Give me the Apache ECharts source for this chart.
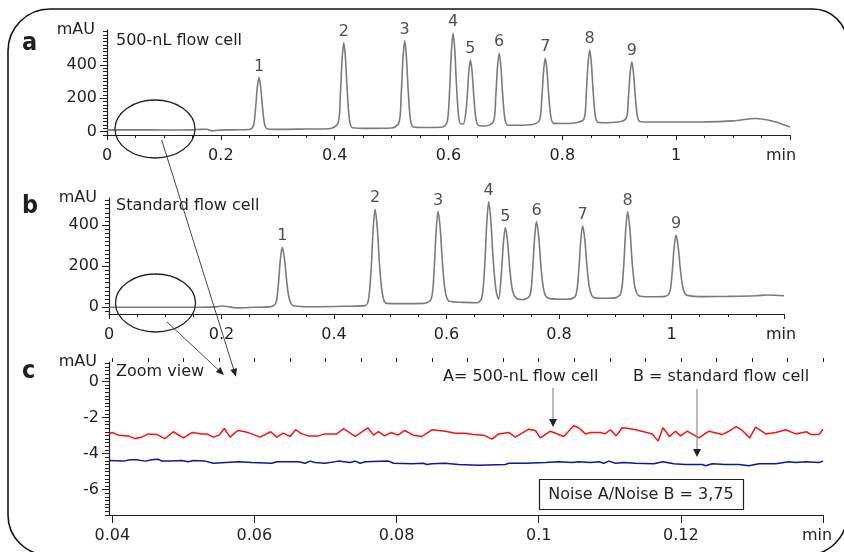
<!DOCTYPE html>
<html>
<head>
<meta charset="utf-8">
<script src="https://cdn.jsdelivr.net/npm/echarts@6/dist/echarts.min.js"></script>
<style>
html, body { margin: 0; background: #fff; }
#main { width: 844px; height: 552px; }
</style>
</head>
<body>
<div id="main"></div>
<script>
// a: 500-nL flow cell trace [min, mAU]
const aTrace = [
  [0,10],[0.05,10],[0.10,9],[0.15,10],[0.165,13],[0.175,14],[0.185,4],[0.195,8],[0.22,10],[0.25,12],
  [0.257,31],[0.261,137],[0.264,262],[0.267,325],[0.270,269],[0.273,153],[0.277,43],[0.282,15],
  [0.30,13],[0.35,15],[0.39,17],
  [0.406,49],[0.410,224],[0.413,430],[0.416,533],[0.419,440],[0.422,250],[0.426,70],[0.431,23],
  [0.46,19],[0.50,21],
  [0.513,53],[0.517,231],[0.520,440],[0.523,545],[0.526,451],[0.529,257],[0.533,74],[0.538,27],
  [0.56,24],[0.59,27],
  [0.598,62],[0.602,253],[0.605,478],[0.608,590],[0.611,489],[0.614,281],[0.618,84],[0.622,45],
  [0.626,45],[0.6315,150],[0.6355,349],[0.6385,429],[0.6415,357],[0.6445,210],[0.6485,70],[0.654,35],
  [0.665,33],
  [0.679,60],[0.683,208],[0.686,383],[0.689,470],[0.692,392],[0.695,230],[0.699,78],[0.704,38],
  [0.72,38],[0.75,44],
  [0.760,69],[0.764,203],[0.767,361],[0.770,440],[0.773,369],[0.776,223],[0.780,85],[0.785,49],
  [0.81,48],
  [0.838,76],[0.842,226],[0.845,401],[0.848,489],[0.851,410],[0.854,248],[0.858,94],[0.863,54],
  [0.88,53],
  [0.912,77],[0.916,201],[0.919,346],[0.922,419],[0.925,353],[0.928,219],[0.932,91],[0.937,59],
  [0.98,57],[1.05,58],[1.10,64],[1.14,78],[1.17,62],[1.2,27]
];
const aPeakTimes = [0.267, 0.416, 0.523, 0.608, 0.6385, 0.689, 0.770, 0.848, 0.922];
const aPeakHeights = [325, 533, 545, 590, 429, 470, 440, 489, 419];

// b: standard flow cell trace
const bTrace = [
  [0,0],[0.05,0],[0.10,0],[0.15,0],[0.19,2],[0.20,6],[0.21,4],[0.225,-3],[0.26,0],[0.285,2],
  [0.296,17],[0.301,109],[0.3045,228],[0.308,292],[0.312,234],[0.316,124],[0.321,37],[0.328,8],
  [0.36,3],[0.42,5],[0.455,8],
  [0.461,33],[0.466,183],[0.4695,374],[0.473,477],[0.477,384],[0.481,206],[0.486,66],[0.493,19],
  [0.52,18],[0.56,19],
  [0.573,42],[0.578,185],[0.5815,369],[0.585,467],[0.589,378],[0.593,208],[0.598,74],[0.605,29],
  [0.63,24],[0.655,22],
  [0.663,49],[0.668,205],[0.6715,406],[0.675,514],[0.679,416],[0.683,230],[0.688,83],
  [0.6926,40],[0.6976,166],[0.7011,311],[0.7046,388],[0.7086,318],[0.7126,184],[0.7176,78],[0.7246,43],
  [0.735,37],
  [0.748,56],[0.753,178],[0.7565,333],[0.760,417],[0.764,341],[0.768,197],[0.773,83],[0.780,45],
  [0.80,39],[0.82,40],
  [0.830,59],[0.835,173],[0.8385,319],[0.842,397],[0.846,326],[0.850,191],[0.855,84],[0.862,48],
  [0.88,44],[0.90,46],
  [0.910,69],[0.915,202],[0.9185,373],[0.922,465],[0.926,382],[0.930,223],[0.935,98],[0.942,56],
  [0.96,51],[0.985,52],
  [0.996,67],[1.001,163],[1.0045,286],[1.008,352],[1.012,292],[1.016,178],[1.021,88],[1.028,58],
  [1.06,52],[1.10,53],[1.15,56],[1.17,60],[1.2,56]
];
const bPeakTimes = [0.308, 0.473, 0.585, 0.675, 0.7046, 0.760, 0.842, 0.922, 1.008];
const bPeakHeights = [292, 477, 467, 514, 388, 417, 397, 465, 352];

// c: zoom view, A (red) and B (blue)
const cRed = [
  [0.0396,-2.9],[0.0400,-2.83],[0.04085,-2.98],[0.04225,-3.02],[0.04319,-3.17],[0.04413,-3.09],[0.04507,-2.91],
  [0.04624,-2.94],[0.04742,-3.17],[0.04859,-2.79],[0.05000,-3.13],[0.05127,-2.83],[0.05258,-2.91],[0.05329,-2.91],
  [0.05423,-3.09],[0.05502,-2.98],[0.05577,-2.61],[0.05657,-3.09],[0.05765,-2.72],[0.05869,-2.79],[0.05962,-2.91],
  [0.06080,-3.09],[0.06230,-2.79],[0.06315,-3.09],[0.06408,-2.87],[0.06502,-3.05],[0.06582,-2.68],[0.06667,-2.91],
  [0.06761,-3.02],[0.06901,-3.02],[0.06995,-2.91],[0.07160,-2.91],[0.07254,-2.61],[0.07347,-2.87],
  [0.07418,-3.05],[0.07596,-2.57],[0.07676,-2.98],[0.07746,-2.79],[0.07831,-3.02],[0.07925,-2.83],[0.08019,-2.98],
  [0.08113,-2.72],[0.08239,-2.98],[0.08357,-3.05],[0.08498,-2.68],[0.08685,-2.76],[0.08826,-2.87],[0.08967,-2.87],
  [0.09084,-2.94],[0.09225,-2.98],[0.09343,-3.20],[0.09437,-2.91],[0.09577,-2.83],[0.09671,-3.09],[0.09859,-2.65],
  [0.09953,-2.72],[0.10023,-3.13],[0.10164,-2.76],[0.10352,-3.05],[0.10493,-2.46],[0.10563,-2.57],[0.10657,-2.91],
  [0.10728,-2.83],
  [0.10869,-2.83],[0.10930,-2.91],[0.11010,-2.68],[0.11090,-3.02],[0.11174,-2.57],[0.11268,-2.61],[0.11362,-2.68],
  [0.11480,-2.79],[0.11597,-2.91],[0.11681,-3.31],[0.11747,-2.57],[0.11841,-3.05],[0.11926,-2.76],[0.11996,-3.02],
  [0.12090,-2.76],[0.12254,-3.13],[0.12395,-2.76],[0.12583,-2.94],[0.12677,-2.76],[0.12780,-2.50],[0.12865,-2.72],
  [0.12968,-3.13],[0.13052,-2.54],[0.13193,-2.91],[0.13334,-2.83],[0.13475,-2.68],[0.13616,-2.91],[0.13766,-2.79],
  [0.13827,-2.94],[0.13944,-2.94],[0.14,-2.65]
];
const cBlue = [
  [0.0396,-4.39],[0.04155,-4.42],[0.04249,-4.35],[0.04343,-4.35],[0.04460,-4.42],[0.04554,-4.35],[0.04648,-4.31],
  [0.04695,-4.42],[0.04836,-4.42],[0.04977,-4.39],[0.05070,-4.46],[0.05141,-4.39],[0.05305,-4.42],[0.05423,-4.54],
  [0.05775,-4.46],[0.05962,-4.50],[0.06244,-4.54],[0.06315,-4.46],[0.06620,-4.46],[0.06714,-4.54],[0.06784,-4.42],
  [0.06854,-4.50],[0.06995,-4.54],[0.07183,-4.42],[0.07347,-4.50],
  [0.07418,-4.42],[0.07488,-4.54],[0.07559,-4.46],[0.07887,-4.42],[0.07958,-4.54],[0.08216,-4.57],[0.08380,-4.54],
  [0.08427,-4.61],[0.08498,-4.57],[0.08685,-4.54],[0.08873,-4.61],[0.09155,-4.65],[0.09530,-4.61],[0.09577,-4.54],
  [0.09812,-4.54],[0.10094,-4.50],[0.10282,-4.46],[0.10469,-4.50],[0.10563,-4.46],[0.10728,-4.50],
  [0.10846,-4.46],[0.10916,-4.54],[0.10987,-4.42],[0.11080,-4.54],[0.11198,-4.50],[0.11362,-4.54],[0.11620,-4.57],
  [0.11747,-4.46],[0.11902,-4.57],[0.12066,-4.61],[0.12301,-4.61],[0.12348,-4.68],[0.12442,-4.57],[0.12630,-4.61],
  [0.12818,-4.61],[0.12958,-4.68],[0.13099,-4.57],[0.13334,-4.57],[0.13522,-4.46],[0.13616,-4.50],[0.13756,-4.46],
  [0.13944,-4.50],[0.14,-4.42]
];

// tick labels
const abYLabels = [0, 200, 400];
const cYLabels = [0, -2, -4, -6];
const cXLabels = [0.04, 0.06, 0.08, 0.1, 0.12, 0.14];

const FONT = 'DejaVu Sans';
const INK = '#231f20';

function steps(a, b, s) {
  const out = [];
  for (let v = a; v <= b + 1e-9; v += s) out.push(+v.toFixed(4));
  return out;
}

const txt = { color: INK, fontFamily: FONT, fontSize: 16 };
const line = { show: true, onZero: false, lineStyle: { color: INK, width: 1.2 } };

function xFmt(last) {
  return v => Math.abs(v - last) < 1e-6 ? '{m|min}' : String(+v.toFixed(3));
}

function xMain(grid, min, max, shift) {
  return {
    gridIndex: grid, type: 'value', min: min, max: max, interval: 0.2,
    axisLine: line,
    axisTick: { length: 5, lineStyle: { color: INK } },
    minorTick: { show: true, splitNumber: 4, length: 3, lineStyle: { color: INK } },
    splitLine: { show: false },
    axisLabel: Object.assign({}, txt, {
      margin: 13, formatter: xFmt(max),
      rich: { m: Object.assign({}, txt, { padding: [0, shift, 0, 0] }) }
    })
  };
}

function yMain(grid, min, max, labels, namePad) {
  return {
    gridIndex: grid, type: 'value', position: 'left', min: min, max: max,
    axisLine: line,
    axisTick: { customValues: labels, length: 7, lineStyle: { color: INK } },
    axisLabel: Object.assign({}, txt, { customValues: labels, margin: 10 }),
    splitLine: { show: false },
    name: 'mAU', nameLocation: 'end', nameGap: 0,
    nameTextStyle: Object.assign({}, txt, { align: 'right', verticalAlign: 'middle', padding: namePad })
  };
}

function yMinor(grid, min, max, ticks) {
  return {
    gridIndex: grid, type: 'value', position: 'left', min: min, max: max,
    axisLine: { show: false, onZero: false },
    axisTick: { customValues: ticks, length: 4, lineStyle: { color: INK } },
    axisLabel: { show: false },
    splitLine: { show: false }
  };
}

function peakLabels(times, heights, xi, yi) {
  return {
    type: 'scatter', xAxisIndex: xi, yAxisIndex: yi, symbolSize: 0, silent: true,
    data: times.map((t, i) => ({ value: [t, heights[i]], name: String(i + 1) })),
    label: Object.assign({}, txt, { show: true, position: 'top', distance: 3, formatter: '{b}' })
  };
}

const chart = echarts.init(document.getElementById('main'));

const option = {
  animation: false,
  backgroundColor: '#fff',
  grid: [
    { left: 107, right: 54, top: 30, height: 105 },
    { left: 109, right: 60, top: 198, height: 116 },
    { left: 109, right: 21, top: 362, height: 153 }
  ],
  xAxis: [
    xMain(0, 0, 1.2, 18),
    xMain(1, 0, 1.2, 6),
    {
      gridIndex: 2, type: 'value', min: 0.03954, max: 0.14,
      axisLine: line,
      axisTick: { customValues: cXLabels, length: 8, lineStyle: { color: INK } },
      splitLine: { show: false },
      axisLabel: Object.assign({}, txt, {
        customValues: cXLabels, margin: 13, formatter: xFmt(0.14),
        rich: { m: Object.assign({}, txt, { padding: [0, 12, 0, 0] }) }
      })
    },
    {
      gridIndex: 2, type: 'value', min: 0.03954, max: 0.14,
      axisLine: { show: false, onZero: false },
      axisTick: { customValues: steps(0.04, 0.14, 0.005), length: 4, lineStyle: { color: INK } },
      axisLabel: { show: false },
      splitLine: { show: false }
    }
  ],
  yAxis: [
    yMain(0, -21, 610, abYLabels, [0, 12, 0, 0]),
    yMinor(0, -21, 610, steps(-20, 600, 20)),
    yMain(1, -32.6, 532, abYLabels, [12, 12, 0, 0]),
    yMinor(1, -32.6, 532, steps(-20, 520, 20)),
    yMain(2, -7.41, 1.08, cYLabels, [0, 12, 0, 0]),
    yMinor(2, -7.41, 1.08, steps(-7.4, 1.0, 0.2))
  ],
  series: [
    { type: 'line', xAxisIndex: 0, yAxisIndex: 0, data: aTrace, showSymbol: false, silent: true,
      smooth: 0.3, lineStyle: { color: '#7b7b7b', width: 1.6 } },
    peakLabels(aPeakTimes, aPeakHeights, 0, 0),
    { type: 'line', xAxisIndex: 1, yAxisIndex: 2, data: bTrace, showSymbol: false, silent: true,
      smooth: 0.3, lineStyle: { color: '#7b7b7b', width: 1.6 } },
    peakLabels(bPeakTimes, bPeakHeights, 1, 2),
    { type: 'line', xAxisIndex: 2, yAxisIndex: 4, data: cRed, showSymbol: false, silent: true,
      lineStyle: { color: '#ff1010', width: 1.5 } },
    { type: 'line', xAxisIndex: 2, yAxisIndex: 4, data: cBlue, showSymbol: false, silent: true,
      lineStyle: { color: '#1414a0', width: 1.5 } }
  ],
  graphic: [
    // frame
    { type: 'rect', z: 1, silent: true, shape: { x: 8, y: 9, width: 839, height: 546, r: [42, 34, 40, 40] },
      style: { fill: 'none', stroke: '#111', lineWidth: 1.6 } },
    // panel letters
    { type: 'text', z: 10, x: 22, y: 43, style: { text: 'a', fill: INK, fontFamily: "'Liberation Sans Narrow', 'DejaVu Sans Condensed', sans-serif", fontWeight: 'bold', fontSize: 25, verticalAlign: 'middle' } },
    { type: 'text', z: 10, x: 22, y: 206, style: { text: 'b', fill: INK, fontFamily: "'Liberation Sans Narrow', 'DejaVu Sans Condensed', sans-serif", fontWeight: 'bold', fontSize: 25, verticalAlign: 'middle' } },
    { type: 'text', z: 10, x: 22, y: 371, style: { text: 'c', fill: INK, fontFamily: "'Liberation Sans Narrow', 'DejaVu Sans Condensed', sans-serif", fontWeight: 'bold', fontSize: 25, verticalAlign: 'middle' } },
    // panel titles
    { type: 'text', z: 10, x: 116, y: 41, style: { text: '500-nL flow cell', fill: INK, fontFamily: FONT, fontSize: 16, verticalAlign: 'middle' } },
    { type: 'text', z: 10, x: 116, y: 206, style: { text: 'Standard flow cell', fill: INK, fontFamily: FONT, fontSize: 16, verticalAlign: 'middle' } },
    { type: 'text', z: 10, x: 116, y: 372, style: { text: 'Zoom view', fill: INK, fontFamily: FONT, fontSize: 16, verticalAlign: 'middle' } },
    // zoom ellipses and connectors
    { type: 'ellipse', z: 10, silent: true, shape: { cx: 155, cy: 129, rx: 40, ry: 29 }, style: { fill: 'none', stroke: '#222', lineWidth: 1.3 } },
    { type: 'ellipse', z: 10, silent: true, shape: { cx: 155.5, cy: 303, rx: 40, ry: 29 }, style: { fill: 'none', stroke: '#222', lineWidth: 1.3 } },
    { type: 'line', z: 10, silent: true, shape: { x1: 161.7, y1: 140, x2: 233.6, y2: 369.1 }, style: { stroke: '#333', lineWidth: 0.9 } },
    { type: 'polygon', z: 10, silent: true, shape: { points: [[236, 376.7], [230.3, 370.1], [236.9, 368.0]] }, style: { fill: '#222' } },
    { type: 'line', z: 10, silent: true, shape: { x1: 166.7, y1: 321.7, x2: 218.1, y2: 369.6 }, style: { stroke: '#333', lineWidth: 0.9 } },
    { type: 'polygon', z: 10, silent: true, shape: { points: [[224, 375], [215.8, 372.1], [220.5, 367.0]] }, style: { fill: '#222' } },
    // trace annotations
    { type: 'text', z: 10, x: 443, y: 377, style: { text: 'A= 500-nL flow cell', fill: INK, fontFamily: FONT, fontSize: 16, verticalAlign: 'middle' } },
    { type: 'line', z: 10, silent: true, shape: { x1: 553, y1: 388, x2: 553, y2: 420 }, style: { stroke: '#8a8a8a', lineWidth: 1.2 } },
    { type: 'polygon', z: 10, silent: true, shape: { points: [[549, 419], [557, 419], [553, 427]] }, style: { fill: '#222' } },
    { type: 'text', z: 10, x: 633, y: 377, style: { text: 'B = standard flow cell', fill: INK, fontFamily: FONT, fontSize: 16, verticalAlign: 'middle' } },
    { type: 'line', z: 10, silent: true, shape: { x1: 697, y1: 389, x2: 697, y2: 450 }, style: { stroke: '#8a8a8a', lineWidth: 1.2 } },
    { type: 'polygon', z: 10, silent: true, shape: { points: [[693, 449], [701, 449], [697, 457]] }, style: { fill: '#222' } },
    // noise ratio box
    { type: 'rect', z: 10, silent: true, shape: { x: 539.5, y: 479.5, width: 204, height: 30 }, style: { fill: '#fff', stroke: '#222', lineWidth: 1.2 } },
    { type: 'text', z: 11, x: 641, y: 494.5, style: { text: 'Noise A/Noise B = 3,75', fill: INK, fontFamily: FONT, fontSize: 16, align: 'center', verticalAlign: 'middle' } }
  ]
};

chart.setOption(option);
</script>
</body>
</html>
